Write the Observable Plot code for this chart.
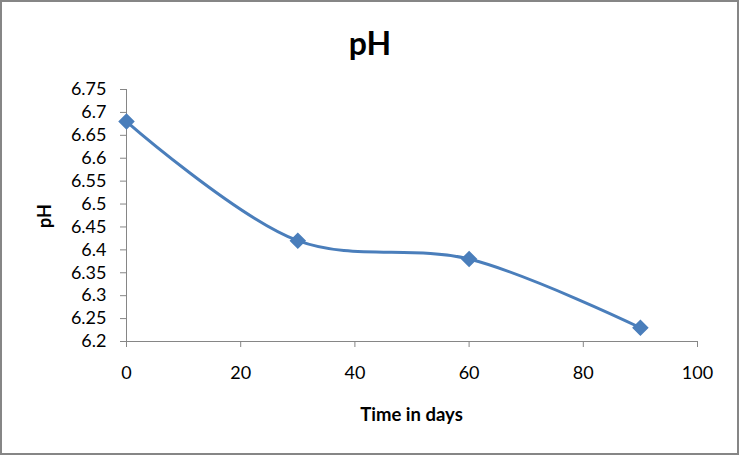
<!DOCTYPE html>
<html>
<head>
<meta charset="utf-8">
<script src="https://cdn.jsdelivr.net/npm/d3@7"></script>
<script src="https://cdn.jsdelivr.net/npm/@observablehq/plot@0.6"></script>
<style>
  html, body { margin: 0; padding: 0; background: #fff; }
  #chart svg { display: block; }
</style>
</head>
<body>
<div id="chart"></div>
<script>
const days = [0, 30, 60, 90];
const phValues = [6.68, 6.42, 6.38, 6.23];
const xTicks = [0, 20, 40, 60, 80, 100];
const yTicks = [6.2, 6.25, 6.3, 6.35, 6.4, 6.45, 6.5, 6.55, 6.6, 6.65, 6.7, 6.75];
const titleText = "pH";
const xLabel = "Time in days";
const yLabel = "pH";

const data = days.map((d, i) => ({day: d, ph: phValues[i]}));
const font = "Lato, Liberation Sans, sans-serif";
const axisColor = "#868686";
const lineColor = "#4a7ebb";
const fmtY = d => String(Math.round(d * 100) / 100);

const chart = Plot.plot({
  width: 740,
  height: 456,
  marginLeft: 126,
  marginRight: 43,
  marginTop: 89,
  marginBottom: 115,
  style: {fontFamily: font, fontSize: "18px", color: "#000", background: "#fff"},
  x: {domain: [0, 100], ticks: xTicks, label: null},
  y: {domain: [6.2, 6.75], ticks: yTicks, label: null},
  marks: [
    Plot.ruleX([0], {stroke: axisColor, strokeWidth: 1}),
    Plot.ruleY([6.2], {stroke: axisColor, strokeWidth: 1}),
    Plot.axisX({ticks: xTicks, tickSize: 6, tickPadding: 19, stroke: axisColor, fill: "#000", fontSize: 18, label: null}),
    Plot.axisY({ticks: yTicks, tickFormat: fmtY, tickSize: 6, tickPadding: 14, stroke: axisColor, fill: "#000", fontSize: 18, label: null}),
    Plot.line(data, {x: "day", y: "ph", curve: "catmull-rom", stroke: lineColor, strokeWidth: 3}),
    Plot.dot(data, {x: "day", y: "ph", symbol: "diamond2", r: 6.5, fill: lineColor, stroke: lineColor})
  ]
});

const svg = d3.select(chart);
svg.append("rect")
  .attr("x", 1).attr("y", 1).attr("width", 737).attr("height", 453)
  .attr("fill", "none").attr("stroke", axisColor).attr("stroke-width", 2);
svg.append("text")
  .attr("x", 370).attr("y", 55).attr("text-anchor", "middle")
  .attr("font-family", font).attr("font-size", 32).attr("font-weight", "bold")
  .attr("fill", "#000").text(titleText);
svg.append("text")
  .attr("x", (126 + 697) / 2).attr("y", 421).attr("text-anchor", "middle")
  .attr("font-family", font).attr("font-size", 18.5).attr("font-weight", "bold")
  .attr("fill", "#000").text(xLabel);
svg.append("text")
  .attr("transform", "translate(51,216) rotate(-90)").attr("text-anchor", "middle")
  .attr("font-family", font).attr("font-size", 18).attr("font-weight", "bold")
  .attr("fill", "#000").text(yLabel);

document.getElementById("chart").appendChild(chart);
</script>
</body>
</html>
